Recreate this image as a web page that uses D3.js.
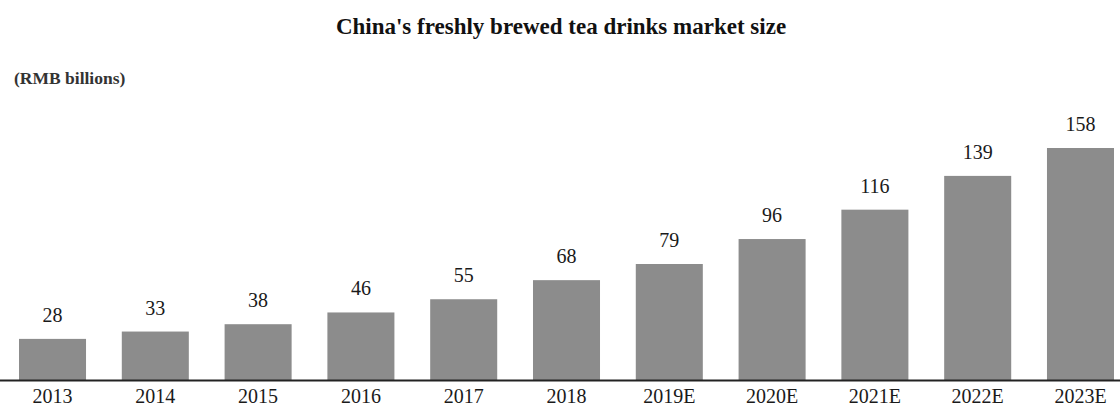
<!DOCTYPE html>
<html>
<head>
<meta charset="utf-8">
<script src="https://cdn.jsdelivr.net/npm/d3@7"></script>
<style>
  body { margin: 0; background: #fff; }
  svg text { font-family: "Liberation Serif", "Times New Roman", serif; }
</style>
</head>
<body>
<div id="chart"></div>
<script>
// chart data
var years = ["2013", "2014", "2015", "2016", "2017", "2018", "2019E", "2020E", "2021E", "2022E", "2023E"];
var marketSize = [28, 33, 38, 46, 55, 68, 79, 96, 116, 139, 158];

var svgWidth = 1120;
var svgHeight = 407;

var svg = d3.select("#chart")
  .append("svg")
  .attr("width", svgWidth)
  .attr("height", svgHeight);

// x band scale: first bar starts at 19, last ends at 1114
var xScale = d3.scaleBand()
  .domain(years)
  .range([19, 1114])
  .paddingInner(0.348)
  .paddingOuter(0);

var yScale = d3.scaleLinear()
  .domain([0, 158])
  .range([380, 148]);

// title
svg.append("text")
  .attr("x", 561)
  .attr("y", 34)
  .attr("text-anchor", "middle")
  .attr("font-size", "23px")
  .attr("font-weight", "bold")
  .attr("fill", "#111")
  .text("China's freshly brewed tea drinks market size");

// unit label
svg.append("text")
  .attr("x", 14)
  .attr("y", 84)
  .attr("font-size", "17.5px")
  .attr("font-weight", "bold")
  .attr("fill", "#333")
  .text("(RMB billions)");

// bars
svg.append("g").selectAll("rect")
  .data(marketSize)
  .enter()
  .append("rect")
  .attr("x", (d, i) => xScale(years[i]))
  .attr("width", xScale.bandwidth())
  .attr("y", d => yScale(d))
  .attr("height", d => yScale(0) - yScale(d))
  .attr("fill", "#8c8c8c");

// value labels
svg.append("g").selectAll("text")
  .data(marketSize)
  .enter()
  .append("text")
  .attr("x", (d, i) => xScale(years[i]) + xScale.bandwidth() / 2)
  .attr("y", d => yScale(d) - 17)
  .attr("text-anchor", "middle")
  .attr("font-size", "20px")
  .attr("fill", "#1a1a1a")
  .text(d => d);

// x axis
var xAxis = svg.append("g")
  .attr("transform", "translate(0, 380)")
  .call(d3.axisBottom(xScale).tickSize(0).tickPadding(9));

xAxis.select(".domain").remove();
xAxis.selectAll("text")
  .attr("font-family", "Liberation Serif, serif")
  .attr("font-size", "20px")
  .attr("fill", "#1a1a1a");

svg.append("line")
  .attr("x1", 0)
  .attr("x2", svgWidth)
  .attr("y1", 380.5)
  .attr("y2", 380.5)
  .attr("stroke", "#222")
  .attr("stroke-width", 2);
</script>
</body>
</html>
